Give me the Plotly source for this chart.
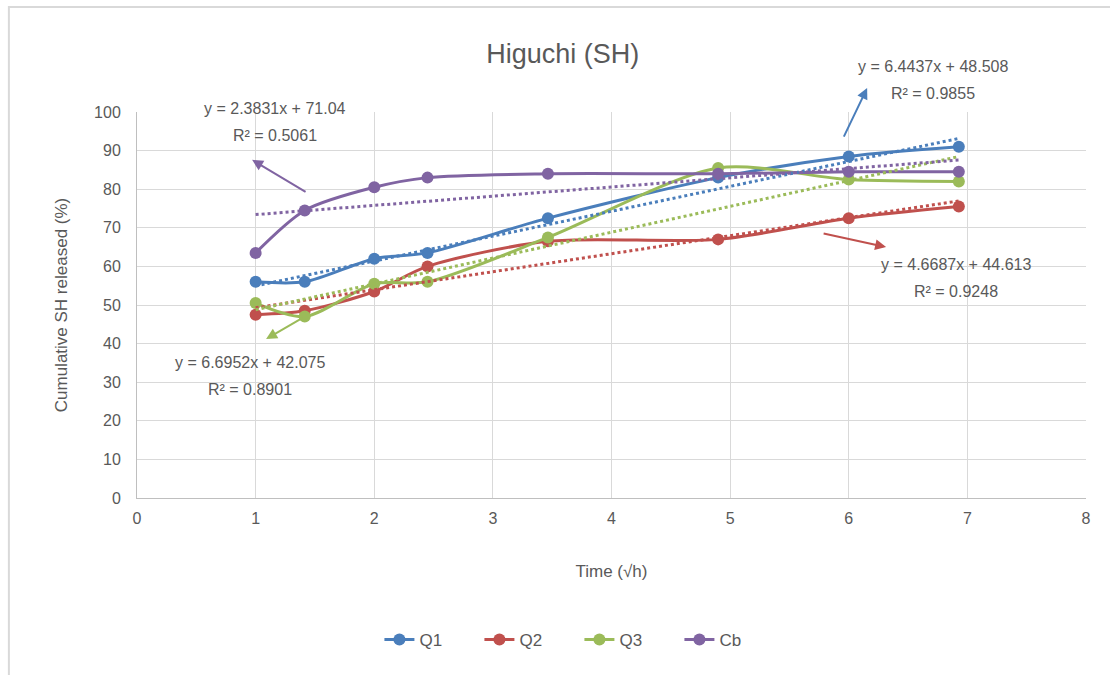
import plotly.graph_objects as go

# Square root of sampling time (√h)
time_sqrt = [1.0, 1.414, 2.0, 2.449, 3.464, 4.899, 6.0, 6.928]

# Cumulative SH released (%)
q1 = [56.0, 56.0, 62.0, 63.5, 72.5, 83.0, 88.5, 91.0]
q2 = [47.5, 48.5, 53.5, 60.0, 66.5, 67.0, 72.5, 75.5]
q3 = [50.5, 47.0, 55.5, 56.0, 67.5, 85.5, 82.5, 82.0]
cb = [63.5, 74.5, 80.5, 83.0, 84.0, 84.0, 84.5, 84.5]

series_names = ["Q1", "Q2", "Q3", "Cb"]
series_values = [q1, q2, q3, cb]
series_colors = ["#4A7EBB", "#C0504D", "#9BBB59", "#8064A2"]

# Linear trend fits (slope, intercept, R²)
fit_slopes = [6.4437, 4.6687, 6.6952, 2.3831]
fit_intercepts = [48.508, 44.613, 42.075, 71.04]
fit_r2 = ["0.9855", "0.9248", "0.8901", "0.5061"]

X_MAX, Y_MAX = 8, 100
FONT = "Liberation Sans"
GREY = "#595959"

fig = go.Figure()

for name, vals, col in zip(series_names, series_values, series_colors):
    fig.add_trace(go.Scatter(
        x=time_sqrt, y=vals, name=name, mode="lines+markers",
        line=dict(color=col, width=3, shape="spline", smoothing=0.8),
        marker=dict(color=col, size=12),
        cliponaxis=False,
    ))

for slope, icpt, col in zip(fit_slopes, fit_intercepts, series_colors):
    xs = [time_sqrt[0], time_sqrt[-1]]
    fig.add_trace(go.Scatter(
        x=xs, y=[slope * v + icpt for v in xs], mode="lines",
        line=dict(color=col, width=3, dash="dot"),
        showlegend=False, hoverinfo="skip",
    ))

# Equation labels, in axis units: (series index, x, y of first line, y of second line)
label_pos = {
    0: (6.71, 111.8, 104.8),
    1: (6.90, 60.6, 53.4),
    2: (0.95, 35.2, 28.0),
    3: (1.16, 101.0, 93.8),
}
annotations = []
for i, (lx, ly1, ly2) in label_pos.items():
    sign = "+" if fit_intercepts[i] >= 0 else "-"
    eq = f"y = {fit_slopes[i]}x {sign} {abs(fit_intercepts[i])}"
    for text, ly in ((eq, ly1), (f"R² = {fit_r2[i]}", ly2)):
        annotations.append(dict(x=lx / X_MAX, y=ly / Y_MAX, xref="paper", yref="paper",
                                xanchor="center", yanchor="middle",
                                text=text, showarrow=False,
                                font=dict(family=FONT, size=16, color=GREY)))

# Pointer arrows from the fits to their labels: (series index, head x, head y, ax, ay)
pointers = [
    (0, 6.155, 106.2, -24, 50),
    (1, 6.315, 65.0, -64, -14),
    (2, 1.088, 41.2, 38, -22),
    (3, 0.97, 87.6, 55, 33),
]
for i, hx, hy, ax, ay in pointers:
    annotations.append(dict(x=hx / X_MAX, y=hy / Y_MAX, xref="paper", yref="paper",
                            ax=ax, ay=ay, text="", showarrow=True,
                            arrowhead=2, arrowsize=1.1, arrowwidth=2,
                            arrowcolor=series_colors[i]))

fig.update_layout(
    width=1110, height=675,
    margin=dict(l=137, r=24, t=112, b=177),
    paper_bgcolor="white", plot_bgcolor="white",
    font=dict(family=FONT, color=GREY),
    title=dict(text="Higuchi (SH)", x=0.507, xref="container", y=0.921,
               yref="container", xanchor="center", yanchor="middle",
               font=dict(family=FONT, size=27, color=GREY)),
    xaxis=dict(range=[0, X_MAX], dtick=1, showgrid=True, gridcolor="#D9D9D9",
               gridwidth=1, zeroline=False, showline=True, linecolor="#BFBFBF",
               linewidth=1, ticks="", ticklabelstandoff=6,
               tickfont=dict(size=16, color=GREY),
               title=dict(text="Time (√h)", font=dict(size=17, color=GREY), standoff=38)),
    yaxis=dict(range=[0, Y_MAX], dtick=10, showgrid=True, gridcolor="#D9D9D9",
               gridwidth=1, zeroline=False, showline=True, linecolor="#BFBFBF",
               linewidth=1, ticks="", ticklabelstandoff=12,
               tickfont=dict(size=16, color=GREY),
               title=dict(text="Cumulative SH released (%)",
                          font=dict(size=17, color=GREY), standoff=22)),
    legend=dict(orientation="h", xref="container", yref="container",
                x=0.522, y=0.052, xanchor="center", yanchor="middle",
                font=dict(size=17, color=GREY),
                entrywidth=55, entrywidthmode="pixels"),
    annotations=annotations,
    shapes=[dict(type="rect", xref="paper", yref="paper",
                 x0=-0.135, x1=1.06, y0=-0.5, y1=1.272,
                 line=dict(color="#D9D9D9", width=2), layer="below")],
)

fig.write_html("out.html")
